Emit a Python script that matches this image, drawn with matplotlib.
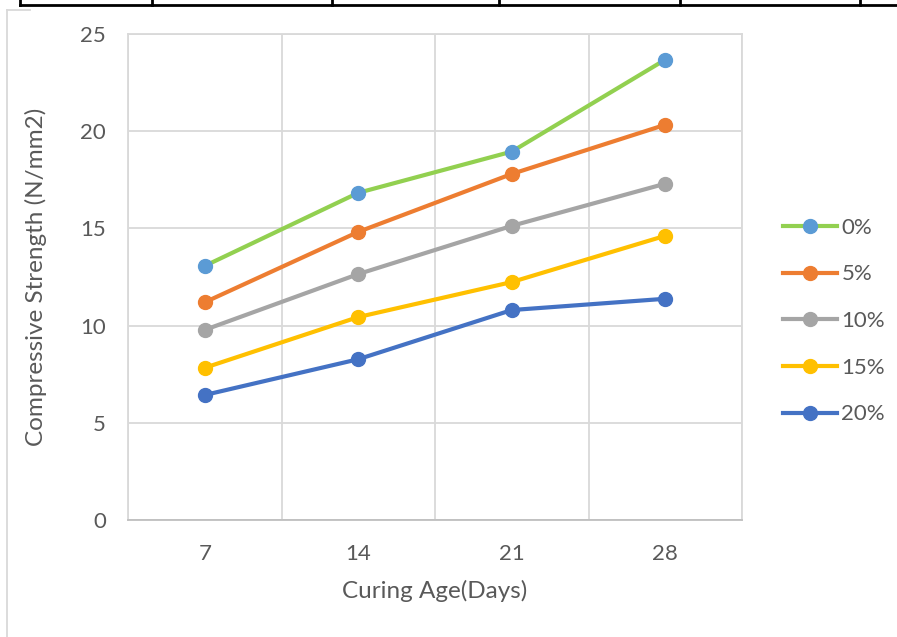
import matplotlib.pyplot as plt
from matplotlib.lines import Line2D

ages = ["7", "14", "21", "28"]
s0 = [13.07, 16.83, 18.95, 23.68]
s5 = [11.2, 14.82, 17.8, 20.33]
s10 = [9.78, 12.65, 15.13, 17.3]
s15 = [7.83, 10.44, 12.24, 14.62]
s20 = [6.43, 8.27, 10.8, 11.38]
labels = ["0%", "5%", "10%", "15%", "20%"]
series = [s0, s5, s10, s15, s20]
line_colors = ["#92D050", "#ED7D31", "#A5A5A5", "#FFC000", "#4472C4"]
marker_colors = ["#5B9BD5", "#ED7D31", "#A5A5A5", "#FFC000", "#4472C4"]

plt.rcParams['font.family'] = ['Lato', 'DejaVu Sans']
txt = "#595959"

fig = plt.figure(figsize=(8.97, 6.37), dpi=100)
ax = fig.add_axes([128/897, 1-520/637, (742-128)/897, (520-34)/637])

xs = list(range(1, len(ages)+1))
for vals, lab, lc, mc in zip(series, labels, line_colors, marker_colors):
    ax.plot(xs, vals, color=lc, lw=3, marker='o', ms=10, mfc=mc, mec=mc,
            label=lab, solid_capstyle='round', zorder=3)

ax.set_xlim(0.5, len(ages)+0.5)
ax.set_ylim(0, 25)
ax.set_yticks([0, 5, 10, 15, 20, 25])
ax.set_xticks(xs)
ax.set_xticklabels(ages)
ax.set_xticks([0.5, 1.5, 2.5, 3.5, 4.5], minor=True)
ax.grid(True, which='minor', axis='x', color='#D9D9D9', lw=1.3)
ax.grid(True, which='major', axis='y', color='#D9D9D9', lw=1.3)
ax.tick_params(which='both', length=0, labelsize=16, colors=txt)
ax.tick_params(axis='x', pad=17)
ax.tick_params(axis='y', pad=16)
for k, sp in ax.spines.items():
    sp.set_color('#D9D9D9')
    sp.set_linewidth(1.3)
ax.spines['bottom'].set_color('#BFBFBF')

ax.set_xlabel("Curing Age(Days)", fontsize=17.5, color=txt, labelpad=12)
ax.set_ylabel("Compressive Strength (N/mm2)", fontsize=17.5, color=txt, labelpad=24)

handles = [Line2D([0], [0], color=lc, lw=3, marker='o', ms=10, mfc=mc, mec=mc)
           for lc, mc in zip(line_colors, marker_colors)]
fig.legend(handles, labels, loc='center left', bbox_to_anchor=(767/897, 1-321/637),
           frameon=False, fontsize=16, labelcolor=txt, handlelength=2.45,
           handletextpad=0.2, labelspacing=1.2, borderpad=0.2)

# page decorations: table border on top, chart frame edge on the left
fig.add_artist(Line2D([20/897, 1], [1-5/637, 1-5/637], color='black', lw=2))
for px in [20, 152, 332, 499, 680, 860]:
    fig.add_artist(Line2D([px/897, px/897], [1-5/637, 1], color='black', lw=2))
fig.add_artist(Line2D([7/897, 7/897], [0, 1-10/637], color='#D9D9D9', lw=1.3))
fig.add_artist(Line2D([7/897, 30/897], [1-10/637, 1-10/637], color='#D9D9D9', lw=1.3))

fig.savefig("out.png", dpi=100)
